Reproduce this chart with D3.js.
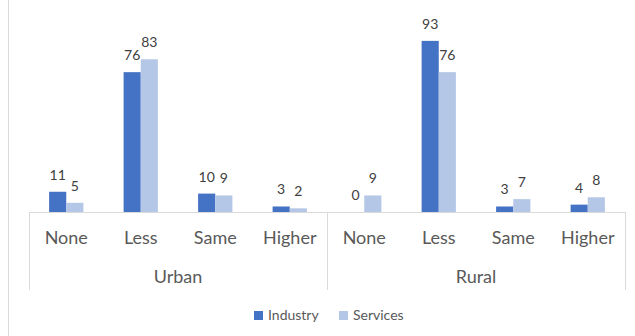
<!DOCTYPE html>
<html><head><meta charset="utf-8">
<script src="https://cdn.jsdelivr.net/npm/d3@7"></script>
<style>body{margin:0;background:#fff}svg{display:block}text{font-family:Lato,"Open Sans",sans-serif}</style>
</head><body>
<script>
const groups = ["Urban", "Rural"];
const categories = ["None", "Less", "Same", "Higher"];
const seriesNames = ["Industry", "Services"];
const industry = [11, 76, 10, 3, 0, 93, 3, 4];
const services = [5, 83, 9, 2, 9, 76, 7, 8];
const colors = ["#4472c4", "#b4c7e7"];

const W = 635, H = 336;
const svg = d3.select("body").append("svg").attr("width", W).attr("height", H);

// chart frame left border
svg.append("line").attr("x1", 8.5).attr("x2", 8.5).attr("y1", 0).attr("y2", H)
  .attr("stroke", "#d9d9d9").attr("stroke-width", 1);

const left = 29, right = 625, base = 212;
const keys = [];
groups.forEach(g => categories.forEach(c => keys.push(g + "|" + c)));
const x = d3.scaleBand().domain(keys).range([left, right]).paddingInner(0.54).paddingOuter(0.27);
const xs = d3.scaleBand().domain(seriesNames).range([0, x.bandwidth()]);
const y = d3.scaleLinear().domain([0, 100]).range([base, base - 184]);

const rows = keys.map((k, i) => ({key: k, vals: [industry[i], services[i]]}));

const g = svg.append("g");
rows.forEach(r => {
  r.vals.forEach((v, j) => {
    const bx = x(r.key) + xs(seriesNames[j]);
    g.append("rect").attr("x", bx).attr("y", y(v)).attr("width", xs.bandwidth())
      .attr("height", base - y(v)).attr("fill", colors[j]);
    g.append("text").attr("x", bx + xs.bandwidth() / 2).attr("y", y(v) - 12)
      .attr("text-anchor", "middle").attr("font-size", 14).attr("fill", "#404040").text(v);
  });
});

// axis lines
const axisColor = "#d9d9d9";
svg.append("line").attr("x1", left).attr("x2", right).attr("y1", base + 0.5).attr("y2", base + 0.5)
  .attr("stroke", axisColor);
const groupW = (right - left) / groups.length;
[0, 1, 2].forEach(i => {
  const xx = Math.round(left + i * groupW) + 0.5;
  svg.append("line").attr("x1", xx).attr("x2", xx).attr("y1", base).attr("y2", 290).attr("stroke", axisColor);
});
keys.forEach((k, i) => {
  svg.append("text").attr("x", x(k) + x.bandwidth() / 2).attr("y", 244)
    .attr("text-anchor", "middle").attr("font-size", 18).attr("fill", "#595959")
    .text(categories[i % categories.length]);
});
groups.forEach((gname, i) => {
  svg.append("text").attr("x", left + groupW * (i + 0.5)).attr("y", 283)
    .attr("text-anchor", "middle").attr("font-size", 18).attr("fill", "#595959").text(gname);
});

// legend
const legendX = [254, 339];
seriesNames.forEach((s, j) => {
  svg.append("rect").attr("x", legendX[j]).attr("y", 311).attr("width", 9).attr("height", 9).attr("fill", colors[j]);
  svg.append("text").attr("x", legendX[j] + 14).attr("y", 320).attr("font-size", 14).attr("fill", "#595959").text(s);
});
</script>
</body></html>
